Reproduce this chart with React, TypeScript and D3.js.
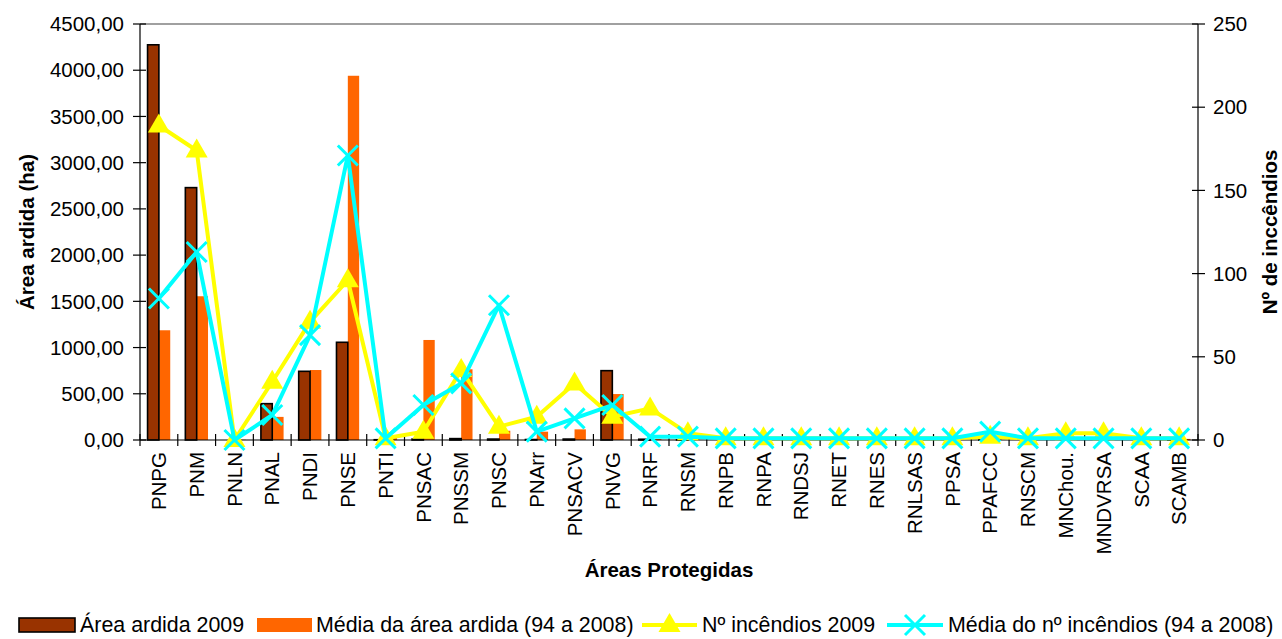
import React from "react";
import * as d3 from "d3";

const categories = ["PNPG","PNM","PNLN","PNAL","PNDI","PNSE","PNTI","PNSAC","PNSSM","PNSC","PNArr","PNSACV","PNVG","PNRF","RNSM","RNPB","RNPA","RNDSJ","RNET","RNES","RNLSAS","PPSA","PPAFCC","RNSCM","MNChou.","MNDVRSA","SCAA","SCAMB"];
const area2009 = [4275,2730,0,393,743,1057,3,10,15,10,5,10,750,8,2,0,0,0,0,0,0,0,5,0,0,0,0,2];
const areaMedia = [1187,1555,3,250,757,3940,40,1082,765,100,90,115,497,10,75,2,1,2,2,3,5,3,10,2,3,5,3,12];
const incendios2009 = [189,174,0,35,71,96,1,5,42,8,14,34,14,19,4,1,1,1,1,1,1,1,2,1,4,4,1,1];
const incendiosMedia = [85,113,0,15,63,171,1,21,34,81,5,13,21,2,2,1,1,1,1,1,1,1,5,1,1,1,1,1];
const leftTicks = [0,500,1000,1500,2000,2500,3000,3500,4000,4500];
const rightTicks = [0,50,100,150,200,250];
const legendLabels = ["Área ardida 2009","Média da área ardida (94 a 2008)","Nº incêndios 2009","Média do nº incêndios (94 a 2008)"];

const W = 1282, H = 639;
const L = 140, R = 1198, T = 24, B = 440;
const FONT = "'Liberation Sans', Arial, Helvetica, sans-serif";
const FS = 20.5;
const LFS = 21.4;

const x = d3.scaleBand<string>().domain(categories).range([L, R]).padding(0);
const xSub = d3.scaleBand<string>().domain(["a","b"]).range([x.bandwidth()*0.2, x.bandwidth()*0.8]).padding(0);
const yL = d3.scaleLinear().domain([0,4500]).range([B, T]);
const yR = d3.scaleLinear().domain([0,250]).range([B, T]);
const fmt = (v: number) => d3.format(".2f")(v).replace(".", ",");

const triPath = "M0,-12L11,7L-11,7Z";
const xPath = "M-10,-10L10,10M-10,10L10,-10";

export default function App() {
  const lineY = d3.line<number>().x((_, i) => (x(categories[i]) as number) + x.bandwidth()/2).y(d => yR(d));
  const cx = (i: number) => (x(categories[i]) as number) + x.bandwidth()/2;
  return (
    <svg width={W} height={H} style={{position:"absolute", left:0, top:0, fontFamily: FONT}}>
      <rect x={0} y={0} width={W} height={H} fill="#fff" />
      {categories.map((c, i) => (
        <g key={c}>
          <rect x={(x(c) as number) + (xSub("b") as number)} y={yL(areaMedia[i])} width={xSub.bandwidth()} height={B - yL(areaMedia[i])} fill="#FF6600" />
          <rect x={(x(c) as number) + (xSub("a") as number)} y={yL(area2009[i])} width={xSub.bandwidth()} height={B - yL(area2009[i])} fill="#993300" stroke="#000" strokeWidth={1.6} />
        </g>
      ))}
      <line x1={L} x2={R} y1={T} y2={T} stroke="#808080" strokeWidth={1.5} />
      <line x1={L} x2={L} y1={T} y2={B} stroke="#000" strokeWidth={1.2} />
      <line x1={R} x2={R} y1={T} y2={B} stroke="#000" strokeWidth={1.2} />
      <line x1={L} x2={R} y1={B} y2={B} stroke="#000" strokeWidth={1.2} />
      {leftTicks.map(t => (
        <g key={"l"+t}>
          <line x1={L-7} x2={L+6} y1={yL(t)} y2={yL(t)} stroke="#000" strokeWidth={1.2} />
          <text x={L-16} y={yL(t)} dy="0.35em" textAnchor="end" fontSize={FS}>{fmt(t)}</text>
        </g>
      ))}
      {rightTicks.map(t => (
        <g key={"r"+t}>
          <line x1={R-6} x2={R+7} y1={yR(t)} y2={yR(t)} stroke="#000" strokeWidth={1.2} />
          <text x={R+15} y={yR(t)} dy="0.35em" textAnchor="start" fontSize={FS}>{t}</text>
        </g>
      ))}
      {categories.concat([""]).map((c, i) => {
        const xx = L + i * x.step();
        return <line key={"xt"+i} x1={xx} x2={xx} y1={B-6} y2={B+6} stroke="#000" strokeWidth={1.2} />;
      })}
      <path d={lineY(incendios2009) as string} fill="none" stroke="#FFFF00" strokeWidth={4} strokeLinejoin="round" />
      {incendios2009.map((v, i) => (
        <path key={"tri"+i} d={triPath} transform={`translate(${cx(i)},${yR(v)})`} fill="#FFFF00" />
      ))}
      <path d={lineY(incendiosMedia) as string} fill="none" stroke="#00FFFF" strokeWidth={4} strokeLinejoin="round" />
      {incendiosMedia.map((v, i) => (
        <path key={"x"+i} d={xPath} transform={`translate(${cx(i)},${yR(v)})`} fill="none" stroke="#00FFFF" strokeWidth={3} />
      ))}
      {categories.map(c => {
        const xx = (x(c) as number) + x.bandwidth()/2;
        return <text key={"cl"+c} transform={`translate(${xx},${B+12}) rotate(-90)`} dy="0.35em" textAnchor="end" fontSize={FS}>{c}</text>;
      })}
      <text transform={`translate(27,${(T+B)/2}) rotate(-90)`} textAnchor="middle" dy="0.35em" fontSize={FS} fontWeight="bold">Área ardida (ha)</text>
      <text transform={`translate(1270,${(T+B)/2}) rotate(-90)`} textAnchor="middle" dy="0.35em" fontSize={FS} fontWeight="bold">Nº de inccêndios</text>
      <text x={(L+R)/2} y={577} textAnchor="middle" fontSize={FS} fontWeight="bold">Áreas Protegidas</text>
      <g>
        <rect x={19} y={618} width={56} height={14} fill="#993300" stroke="#000" strokeWidth={1.6} />
        <text x={80} y={625} dy="0.35em" fontSize={LFS}>{legendLabels[0]}</text>
        <rect x={257} y={618} width={55} height={14} fill="#FF6600" />
        <text x={316} y={625} dy="0.35em" fontSize={LFS}>{legendLabels[1]}</text>
        <line x1={642} x2={697} y1={625} y2={625} stroke="#FFFF00" strokeWidth={4} />
        <path d={triPath} transform="translate(669.5,625)" fill="#FFFF00" />
        <text x={702} y={625} dy="0.35em" fontSize={LFS}>{legendLabels[2]}</text>
        <line x1={887} x2={943} y1={625} y2={625} stroke="#00FFFF" strokeWidth={4} />
        <path d={xPath} transform="translate(915,625)" fill="none" stroke="#00FFFF" strokeWidth={3} />
        <text x={948} y={625} dy="0.35em" fontSize={LFS}>{legendLabels[3]}</text>
      </g>
    </svg>
  );
}
